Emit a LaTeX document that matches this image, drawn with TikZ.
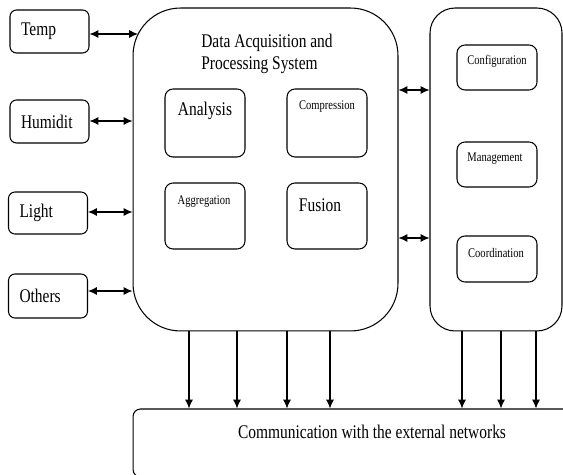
\documentclass[tikz,border=0pt]{standalone}
\usepackage{fontspec}
\setmainfont{Liberation Serif}[FakeStretch=0.8]
\usetikzlibrary{arrows.meta}

\begin{document}
\begin{tikzpicture}[x=0.02cm, y=-0.02cm, line width=0.6pt,
    >={Latex[length=5pt,width=4.5pt]},
    sensor/.style={draw, rounded corners=0.13cm, text width=1.14cm, inner xsep=0.22cm, align=left, minimum height=0.86cm, font=\fontsize{11}{12.5}\selectfont},
    unit/.style={draw, rounded corners=0.16cm, minimum width=1.6cm},
    bigtxt/.style={font=\fontsize{11}{12.5}\selectfont},
    smalltxt/.style={font=\fontsize{7.5}{9}\selectfont},
]
\useasboundingbox (0,0) rectangle (563,475);
\clip (0,0) rectangle (563,475);

% sensors
\node[sensor] (temp) at (49.5,31.5) {Temp};
\node[sensor] (humid) at (49.5,121.5) {Humidit};
\node[sensor, minimum height=0.84cm] (light) at (48,213) {Light};
\node[sensor, minimum height=0.88cm] (others) at (48,296) {Others};

% data acquisition and processing
\node[draw, rounded corners=0.95cm, minimum width=5.3cm, minimum height=6.46cm] (dap) at (265.5,169.5) {};
\node[bigtxt, align=left] (dapTitle) at (267,54) {Data Acquisition and\\Processing System};
\node[unit, minimum height=1.36cm] (analysis) at (205,123) {};
\node[unit, minimum height=1.36cm] (compress) at (327,123) {};
\node[unit, minimum height=1.32cm] (aggreg) at (205,216) {};
\node[unit, minimum height=1.32cm] (fusion) at (327,216) {};
\node[bigtxt] at (205,111) {Analysis};
\node[smalltxt] at (327,107) {Compression};
\node[smalltxt] at (204,202) {Aggregation};
\node[bigtxt] at (320,205) {Fusion};

% control side
\node[draw, rounded corners=0.5cm, minimum width=2.64cm, minimum height=6.46cm] (ctl) at (496,169.5) {};
\node[unit, minimum height=0.9cm] (config) at (497,67.5) {};
\node[unit, minimum height=0.9cm] (manage) at (497,164.5) {};
\node[unit, minimum height=0.92cm] (coord) at (497,259) {};
\node[smalltxt] at (497,61) {Configuration};
\node[smalltxt] at (495,159) {Management};
\node[smalltxt] at (496,253) {Coordination};

% external communication
\node[draw, rounded corners=0.15cm, minimum width=8.84cm, minimum height=1.36cm] (comm) at (354,443) {};
\node[bigtxt] (commText) at (372,432) {Communication with the external networks};

% links
\coordinate (dapArc) at (138,34);
\draw[<->] (temp.east |- 0,34) -- (dapArc);
\foreach \s/\y in {humid/121,light/212,others/291}
  \draw[<->] (\s.east |- 0,\y) -- (dap.west |- 0,\y);
\foreach \y in {90,238}
  \draw[<->] (dap.east |- 0,\y) -- (ctl.west |- 0,\y);
\foreach \x in {189,237,287,330}
  \draw[->] (\x,0 |- dap.south) -- (\x,0 |- comm.north);
\foreach \x in {462,501,536}
  \draw[->] (\x,0 |- ctl.south) -- (\x,0 |- comm.north);
\end{tikzpicture}
\end{document}
